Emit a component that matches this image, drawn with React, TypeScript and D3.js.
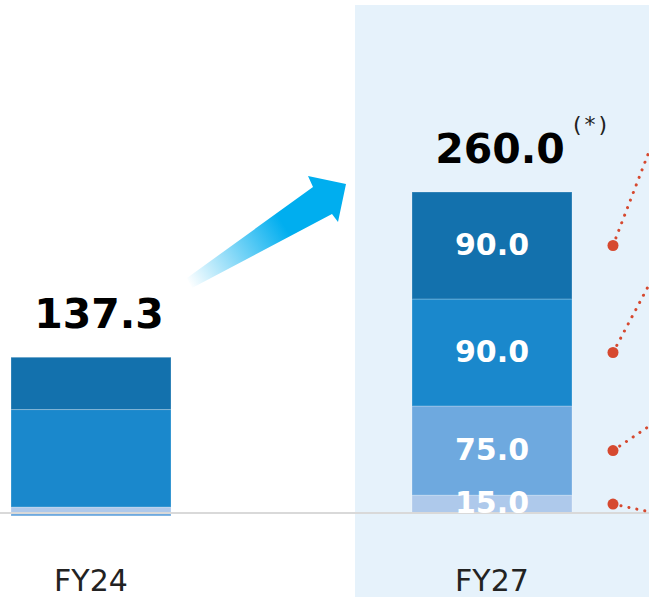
import React from "react";
import * as d3 from "d3";

const categories = ["FY24", "FY27"];
const seriesKeys = ["a", "b", "c", "d"];
const seriesA = [5, 15];
const seriesB = [-2.5, 75];
const seriesC = [82, 90];
const seriesD = [44, 90];
const totals = ["137.3", "260.0"];
const segmentLabels = [[], ["15.0", "75.0", "90.0", "90.0"]];
const colors = ["#aec9eb", "#6ea9df", "#1a88cc", "#1371ad"];
const calloutAngles = [12, -34, -62, -69];

const W = 649;
const H = 597;
const FONT = "'DejaVu Sans', Verdana, sans-serif";

export default function App() {
  const rows = categories.map((c, i) => ({
    cat: c,
    a: seriesA[i],
    b: seriesB[i],
    c: seriesC[i],
    d: seriesD[i],
  }));
  const stack = d3.stack<any>().keys(seriesKeys).offset(d3.stackOffsetDiverging);
  const layers = stack(rows);

  const x = d3.scaleBand().domain(categories).range([11, 572]).paddingInner(0.601).paddingOuter(0);
  const y = d3.scaleLinear().domain([0, 270]).range([513, 192]);
  const bw = x.bandwidth();

  const fy27x = x("FY27")!;
  const panelX = fy27x - 57;

  return (
    <svg width={W} height={H} style={{ position: "absolute", left: 0, top: 0 }} fontFamily={FONT}>
      <defs>
        <linearGradient id="arrowGrad" x1="188" y1="283" x2="346" y2="184" gradientUnits="userSpaceOnUse">
          <stop offset="0" stopColor="#00aeef" stopOpacity="0" />
          <stop offset="0.6" stopColor="#00aeef" stopOpacity="1" />
          <stop offset="1" stopColor="#00aeef" stopOpacity="1" />
        </linearGradient>
      </defs>
      <rect x={0} y={0} width={W} height={H} fill="#ffffff" />
      <rect x={panelX} y={5} width={W - panelX} height={H - 5} fill="#e6f2fb" />

      {layers.map((layer, li) =>
        layer.map((seg, i) => {
          const y0 = y(seg[1]);
          const y1 = y(seg[0]);
          return (
            <rect
              key={`${li}-${i}`}
              x={x(categories[i])}
              y={Math.min(y0, y1)}
              width={bw}
              height={Math.abs(y1 - y0)}
              fill={colors[li]}
              stroke="#ffffff"
              strokeOpacity={0.25}
              strokeWidth={1}
            />
          );
        })
      )}

      <line x1={0} x2={W} y1={y(0)} y2={y(0)} stroke="#d9d9d9" strokeWidth={2} />

      {segmentLabels.map((labs, i) =>
        labs.map((lab, li) => {
          const seg = layers[li][i];
          const cy = (y(seg[0]) + y(seg[1])) / 2;
          return (
            <text
              key={`l${i}-${li}`}
              x={x(categories[i])! + bw / 2}
              y={cy + 9}
              textAnchor="middle"
              fill="#ffffff"
              fontWeight="bold"
              fontSize={30}
            >
              {lab}
            </text>
          );
        })
      )}

      {categories.map((c, i) => {
        const top = y(layers[3][i][1]);
        return (
          <g key={`t${i}`}>
            <text
              x={x(c)! + bw / 2 + 8}
              y={top - 29}
              textAnchor="middle"
              fontWeight="bold"
              fontSize={41}
              fill="#000"
            >
              {totals[i]}
            </text>
            <text x={x(c)! + bw / 2} y={591} textAnchor="middle" fontSize={30} fill="#222">
              {c}
            </text>
          </g>
        );
      })}
      <text x={573} y={132} fontSize={22} fill="#222" letterSpacing={3}>(*)</text>

      <path
        d="M187,278 L313,187 L308,176 L346,184 L338,222 L332,214 L192,288 Z"
        fill="url(#arrowGrad)"
      />

      {layers.map((layer, li) => {
        const seg = layer[1];
        const cy = (y(seg[0]) + y(seg[1])) / 2;
        const cx = fy27x + bw + 41;
        const ang = (calloutAngles[li] * Math.PI) / 180;
        const len = 120;
        return (
          <g key={`c${li}`}>
            <line
              x1={cx}
              y1={cy}
              x2={cx + Math.cos(ang) * len}
              y2={cy + Math.sin(ang) * len}
              stroke="#d6492f"
              strokeWidth={3}
              strokeDasharray="0.1 8"
              strokeLinecap="round"
            />
            <circle cx={cx} cy={cy} r={5.5} fill="#d6492f" />
          </g>
        );
      })}
    </svg>
  );
}
